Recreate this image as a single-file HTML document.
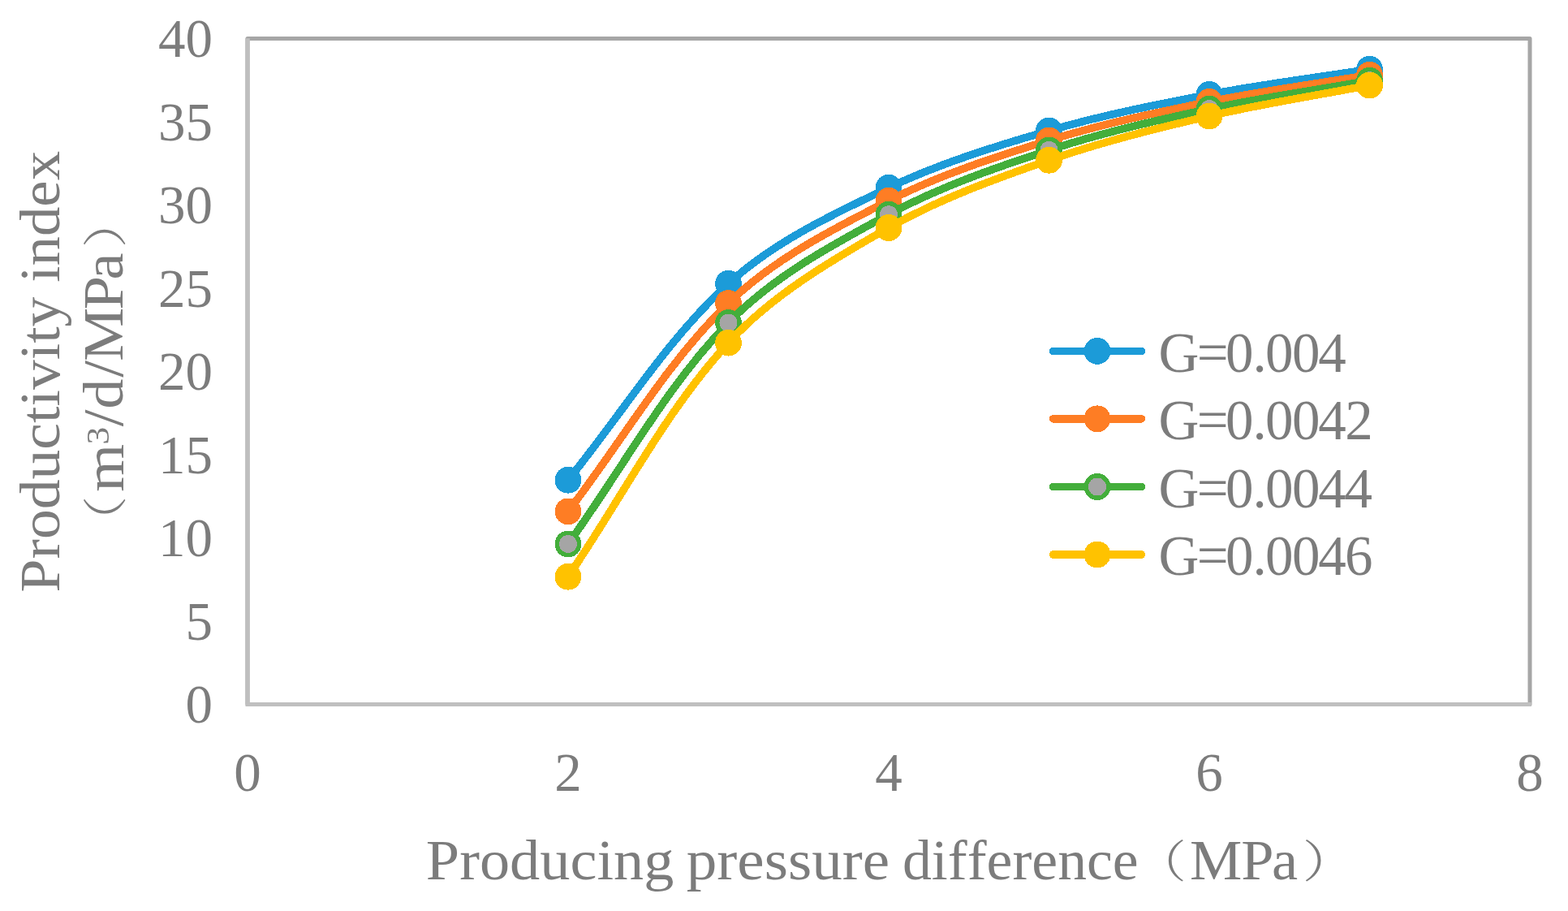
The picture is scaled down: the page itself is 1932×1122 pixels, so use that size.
<!DOCTYPE html>
<html><head><meta charset="utf-8"><title>Productivity index chart</title>
<style>
html,body{margin:0;padding:0;background:#fff;}
body{width:1932px;height:1122px;overflow:hidden;}
svg{display:block;}
text{font-family:"Liberation Serif","Noto Serif CJK SC",serif;fill:#7c7c7c;font-kerning:none;}
.cj{font-family:"Noto Serif CJK SC","Liberation Serif",serif;font-weight:300;}
</style></head><body>
<svg width="1932" height="1122" viewBox="0 0 1932 1122">
<rect x="0" y="0" width="1932" height="1122" fill="#fff"/>
<rect x="305" y="47.5" width="1580" height="820" fill="none" stroke="#a6a6a6" stroke-width="5" stroke-linejoin="round"/>
<line x1="305" y1="47.2" x2="305" y2="867.5" stroke="#bfbfbf" stroke-width="5.5"/>
<line x1="302.5" y1="867.5" x2="1886.8" y2="867.5" stroke="#bfbfbf" stroke-width="5"/>
<text x="262" y="890.0" font-size="67" text-anchor="end">0</text>
<text x="262" y="787.5" font-size="67" text-anchor="end">5</text>
<text x="262" y="685.0" font-size="67" text-anchor="end">10</text>
<text x="262" y="582.5" font-size="67" text-anchor="end">15</text>
<text x="262" y="480.0" font-size="67" text-anchor="end">20</text>
<text x="262" y="377.5" font-size="67" text-anchor="end">25</text>
<text x="262" y="275.0" font-size="67" text-anchor="end">30</text>
<text x="262" y="172.5" font-size="67" text-anchor="end">35</text>
<text x="262" y="70.0" font-size="67" text-anchor="end">40</text>
<text x="305.0" y="974" font-size="67" text-anchor="middle">0</text>
<text x="700.0" y="974" font-size="67" text-anchor="middle">2</text>
<text x="1095.0" y="974" font-size="67" text-anchor="middle">4</text>
<text x="1490.0" y="974" font-size="67" text-anchor="middle">6</text>
<text x="1885.0" y="974" font-size="67" text-anchor="middle">8</text>
<text x="524.86" y="1083.30" font-size="69" textLength="305.56" lengthAdjust="spacingAndGlyphs">Producing</text>
<text x="845.79" y="1083.30" font-size="69" textLength="250.31" lengthAdjust="spacingAndGlyphs">pressure</text>
<text x="1112.01" y="1083.30" font-size="69" textLength="290.68" lengthAdjust="spacingAndGlyphs">difference</text>
<text class="cj" x="1398.74" y="1080.10" font-size="55" textLength="63.03" lengthAdjust="spacingAndGlyphs">（</text>
<text transform="scale(1.0489,1)" x="1397.65 1458.04 1494.06" y="1083.30" font-size="69">MPa</text>
<text class="cj" x="1604.67" y="1080.10" font-size="55" textLength="65.49" lengthAdjust="spacingAndGlyphs">）</text>
<g transform="rotate(-90)">
<text x="-729.52" y="72.50" font-size="69" textLength="363.91" lengthAdjust="spacingAndGlyphs">Productivity</text>
<text x="-347.83" y="72.50" font-size="69" textLength="162.02" lengthAdjust="spacingAndGlyphs">index</text>
<text class="cj" x="-673.63" y="149.00" font-size="55" textLength="62.68" lengthAdjust="spacingAndGlyphs">（</text>
<text x="-605.79" y="151.50" font-size="69" textLength="58.98" lengthAdjust="spacingAndGlyphs">m</text>
<text x="-547.47" y="133.50" font-size="40" textLength="21.67" lengthAdjust="spacingAndGlyphs">3</text>
<text transform="scale(1.0787,1)" x="-487.02 -467.09 -430.89 -412.47 -353.56 -319.39" y="151.50" font-size="69">/d/MPa</text>
<text class="cj" x="-305.55" y="149.00" font-size="55" textLength="65.85" lengthAdjust="spacingAndGlyphs">）</text>
</g>
<g shape-rendering="crispEdges">
<path d="M700.00 591.20 C765.83 510.57 820.56 419.42 897.50 349.30 C954.19 297.63 1025.76 264.21 1095.00 231.20 C1158.07 201.13 1225.41 180.51 1292.50 161.00 C1357.31 142.15 1423.71 129.00 1490.00 116.30 C1555.45 103.76 1621.67 95.63 1687.50 85.30" fill="none" stroke="#1c9bd8" stroke-width="9.5" stroke-linecap="round" stroke-linejoin="round"/>
<circle cx="700.0" cy="591.2" r="16.4" fill="#1c9bd8"/>
<circle cx="897.5" cy="349.3" r="16.4" fill="#1c9bd8"/>
<circle cx="1095.0" cy="231.2" r="16.4" fill="#1c9bd8"/>
<circle cx="1292.5" cy="161.0" r="16.4" fill="#1c9bd8"/>
<circle cx="1490.0" cy="116.3" r="16.4" fill="#1c9bd8"/>
<circle cx="1687.5" cy="85.3" r="16.4" fill="#1c9bd8"/>
<path d="M700.00 629.90 C765.83 544.40 820.00 448.49 897.50 373.40 C953.61 319.04 1025.34 282.56 1095.00 247.20 C1157.72 215.36 1225.29 193.64 1292.50 172.90 C1357.21 152.93 1423.65 138.84 1490.00 125.30 C1555.40 111.96 1621.67 103.30 1687.50 92.30" fill="none" stroke="#fe7d24" stroke-width="9.5" stroke-linecap="round" stroke-linejoin="round"/>
<circle cx="700.0" cy="629.9" r="16.4" fill="#fe7d24"/>
<circle cx="897.5" cy="373.4" r="16.4" fill="#fe7d24"/>
<circle cx="1095.0" cy="247.2" r="16.4" fill="#fe7d24"/>
<circle cx="1292.5" cy="172.9" r="16.4" fill="#fe7d24"/>
<circle cx="1490.0" cy="125.3" r="16.4" fill="#fe7d24"/>
<circle cx="1687.5" cy="92.3" r="16.4" fill="#fe7d24"/>
<path d="M700.00 670.00 C765.83 579.17 819.26 477.90 897.50 397.50 C952.91 340.57 1025.05 301.75 1095.00 264.10 C1157.46 230.48 1225.12 207.06 1292.50 184.90 C1357.07 163.67 1423.57 148.60 1490.00 134.20 C1555.34 120.04 1621.67 110.93 1687.50 99.30" fill="none" stroke="#43ae3b" stroke-width="9.5" stroke-linecap="round" stroke-linejoin="round"/>
<circle cx="700.0" cy="670.0" r="13.7" fill="#a5a5a5" stroke="#43ae3b" stroke-width="5.4"/>
<circle cx="897.5" cy="397.5" r="13.7" fill="#a5a5a5" stroke="#43ae3b" stroke-width="5.4"/>
<circle cx="1095.0" cy="264.1" r="13.7" fill="#a5a5a5" stroke="#43ae3b" stroke-width="5.4"/>
<circle cx="1292.5" cy="184.9" r="13.7" fill="#a5a5a5" stroke="#43ae3b" stroke-width="5.4"/>
<circle cx="1490.0" cy="134.2" r="13.7" fill="#a5a5a5" stroke="#43ae3b" stroke-width="5.4"/>
<circle cx="1687.5" cy="99.3" r="13.7" fill="#a5a5a5" stroke="#43ae3b" stroke-width="5.4"/>
<path d="M700.00 710.20 C765.83 614.20 818.72 507.90 897.50 422.20 C952.33 362.55 1024.59 320.59 1095.00 280.50 C1157.08 245.15 1225.03 220.78 1292.50 197.30 C1356.98 174.85 1423.51 158.54 1490.00 143.00 C1555.28 127.75 1621.67 117.67 1687.50 105.00" fill="none" stroke="#ffc200" stroke-width="9.5" stroke-linecap="round" stroke-linejoin="round"/>
<circle cx="700.0" cy="710.2" r="16.4" fill="#ffc200"/>
<circle cx="897.5" cy="422.2" r="16.4" fill="#ffc200"/>
<circle cx="1095.0" cy="280.5" r="16.4" fill="#ffc200"/>
<circle cx="1292.5" cy="197.3" r="16.4" fill="#ffc200"/>
<circle cx="1490.0" cy="143.0" r="16.4" fill="#ffc200"/>
<circle cx="1687.5" cy="105.0" r="16.4" fill="#ffc200"/>
<line x1="1297.5" y1="432.4" x2="1406.5" y2="432.4" stroke="#1c9bd8" stroke-width="9.5" stroke-linecap="round"/>
<circle cx="1352" cy="432.4" r="16.4" fill="#1c9bd8"/>
<text x="1427.60 1474.81 1510.00 1543.38 1558.95 1592.10 1624.17" y="457.50" font-size="69">G=0.004</text>
<line x1="1297.5" y1="515.8" x2="1406.5" y2="515.8" stroke="#fe7d24" stroke-width="9.5" stroke-linecap="round"/>
<circle cx="1352" cy="515.8" r="16.4" fill="#fe7d24"/>
<text x="1427.60 1474.81 1510.00 1543.38 1558.95 1592.10 1624.17 1657.34" y="541.20" font-size="69">G=0.0042</text>
<line x1="1297.5" y1="599.5" x2="1406.5" y2="599.5" stroke="#43ae3b" stroke-width="9.5" stroke-linecap="round"/>
<circle cx="1352" cy="599.5" r="13.7" fill="#a5a5a5" stroke="#43ae3b" stroke-width="5.4"/>
<text x="1427.60 1474.81 1510.00 1543.38 1558.95 1592.10 1624.17 1656.47" y="624.90" font-size="69">G=0.0044</text>
<line x1="1297.5" y1="683.0" x2="1406.5" y2="683.0" stroke="#ffc200" stroke-width="9.5" stroke-linecap="round"/>
<circle cx="1352" cy="683.0" r="16.4" fill="#ffc200"/>
<text x="1427.60 1474.81 1510.00 1543.38 1558.95 1592.10 1624.17 1656.90" y="708.40" font-size="69">G=0.0046</text>
</g>
</svg>
</body></html>
